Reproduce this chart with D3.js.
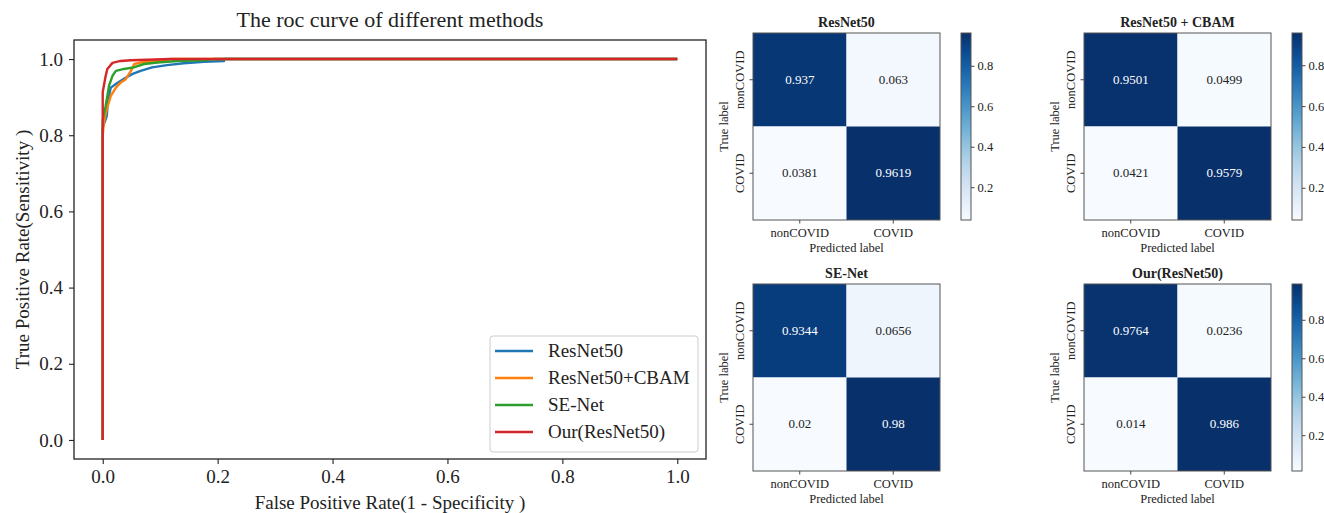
<!DOCTYPE html>
<html>
<head>
<meta charset="utf-8">
<script src="https://cdn.jsdelivr.net/npm/d3@7"></script>
<style>
  body { margin: 0; background: #fff; }
  svg text { font-family: "Liberation Serif", "DejaVu Serif", serif !important; fill: #222; }
</style>
</head>
<body>
<script>
// ---- ROC data ----
const methods = ["ResNet50", "ResNet50+CBAM", "SE-Net", "Our(ResNet50)"];
const colors = ["#1f77b4", "#ff7f0e", "#2ca02c", "#d62728"];

const resnetFpr = [0, 0, 0.007, 0.009, 0.014, 0.026, 0.040, 0.052, 0.066, 0.086, 0.112, 0.141, 0.176, 0.211, 0.211, 1];
const resnetTpr = [0, 0.82, 0.850, 0.890, 0.925, 0.938, 0.951, 0.961, 0.969, 0.978, 0.984, 0.989, 0.993, 0.995, 1.0, 1];

const cbamFpr = [0, 0, 0.002, 0.007, 0.014, 0.023, 0.031, 0.040, 0.049, 0.055, 0.066, 0.095, 0.118, 1];
const cbamTpr = [0, 0.80, 0.834, 0.868, 0.903, 0.925, 0.938, 0.947, 0.969, 0.987, 0.991, 0.995, 1.0, 1];

const senetFpr = [0, 0, 0.005, 0.008, 0.011, 0.017, 0.023, 0.037, 0.054, 0.072, 0.095, 0.130, 0.176, 0.195, 1];
const senetTpr = [0, 0.84, 0.876, 0.903, 0.930, 0.956, 0.969, 0.974, 0.978, 0.987, 0.991, 0.995, 0.997, 1.0, 1];

const oursFpr = [0, 0, 0.002, 0.005, 0.008, 0.017, 0.031, 0.049, 0.118, 1];
const oursTpr = [0, 0.913, 0.930, 0.955, 0.974, 0.990, 0.995, 0.997, 1.0, 1];

const rocFpr = [resnetFpr, cbamFpr, senetFpr, oursFpr];
const rocTpr = [resnetTpr, cbamTpr, senetTpr, oursTpr];
const rocTicks = [0, 0.2, 0.4, 0.6, 0.8, 1.0];

// ---- confusion matrices ----
const cmLabels = ["nonCOVID", "COVID"];
const cmTitles = ["ResNet50", "ResNet50 + CBAM", "SE-Net", "Our(ResNet50)"];
const cmResnet = [[0.937, 0.063], [0.0381, 0.9619]];
const cmCbam = [[0.9501, 0.0499], [0.0421, 0.9579]];
const cmSenet = [[0.9344, 0.0656], [0.02, 0.98]];
const cmOurs = [[0.9764, 0.0236], [0.014, 0.986]];
const cmData = [cmResnet, cmCbam, cmSenet, cmOurs];
const cmShowBar = [true, true, false, true];
const cbTicks = [0.2, 0.4, 0.6, 0.8];

const W = 1324, H = 513;
const FONT = "Liberation Serif";
const svg = d3.select("body").append("svg")
  .attr("width", W).attr("height", H)
  .attr("font-family", FONT);

/**
 * ROC panel
 */
const box = { left: 74, right: 706, top: 40, bottom: 459 };
const x = d3.scaleLinear().domain([-0.05, 1.05]).range([box.left, box.right]);
const y = d3.scaleLinear().domain([-0.05, 1.05]).range([box.bottom, box.top]);

const roc = svg.append("g");

const line = d3.line().x(d => x(d[0])).y(d => y(d[1]));
rocFpr.forEach((fpr, i) => {
  const pts = fpr.map((f, j) => [f, rocTpr[i][j]]);
  roc.append("path")
    .attr("d", line(pts))
    .attr("fill", "none")
    .attr("stroke", colors[i])
    .attr("stroke-width", 2.4)
    .attr("stroke-linejoin", "round");
});

// axes
const xAxis = roc.append("g")
  .attr("transform", `translate(0,${box.bottom})`)
  .call(d3.axisBottom(x).tickValues(rocTicks).tickFormat(d3.format(".1f")).tickSize(5).tickPadding(6));
const yAxis = roc.append("g")
  .attr("transform", `translate(${box.left},0)`)
  .call(d3.axisLeft(y).tickValues(rocTicks).tickFormat(d3.format(".1f")).tickSize(5).tickPadding(6));
[xAxis, yAxis].forEach(a => {
  a.attr("font-family", FONT);
  a.select(".domain").remove();
  a.selectAll("line").attr("stroke", "#222").attr("stroke-width", 1.1);
  a.selectAll("text").style("font-size", "19px").attr("fill", "#222");
});

roc.append("rect")
  .attr("x", box.left).attr("y", box.top)
  .attr("width", box.right - box.left).attr("height", box.bottom - box.top)
  .attr("fill", "none").attr("stroke", "#222").attr("stroke-width", 1.3);

roc.append("text")
  .attr("x", (box.left + box.right) / 2).attr("y", 27)
  .attr("text-anchor", "middle").style("font-size", "22px")
  .text("The roc curve of different methods");

roc.append("text")
  .attr("x", (box.left + box.right) / 2).attr("y", 509)
  .attr("text-anchor", "middle").style("font-size", "19px")
  .text("False Positive Rate(1 - Specificity )");

roc.append("text")
  .attr("transform", `translate(29,${(box.top + box.bottom) / 2}) rotate(-90)`)
  .attr("text-anchor", "middle").style("font-size", "19px")
  .text("True Positive Rate(Sensitivity )");

// legend
const legend = roc.append("g").attr("transform", "translate(490,336)");
legend.append("rect")
  .attr("width", 208).attr("height", 116).attr("rx", 3)
  .attr("fill", "#fff").attr("fill-opacity", 0.85)
  .attr("stroke", "#ccc").attr("stroke-width", 1);
methods.forEach((m, i) => {
  const ly = 15 + i * 27;
  legend.append("line")
    .attr("x1", 5).attr("x2", 43).attr("y1", ly).attr("y2", ly)
    .attr("stroke", colors[i]).attr("stroke-width", 2.4);
  legend.append("text")
    .attr("x", 58).attr("y", ly + 6)
    .style("font-size", "19px")
    .text(m);
});

/**
 * confusion matrices
 */
const panels = [
  { x0: 753, y0: 33 },
  { x0: 1084, y0: 33 },
  { x0: 753, y0: 284 },
  { x0: 1084, y0: 284 }
];
const size = 187;

cmData.forEach((mat, k) => {
  const p = panels[k];
  const g = svg.append("g").attr("transform", `translate(${p.x0},${p.y0})`);
  const flat = mat.flat();
  const vmin = d3.min(flat), vmax = d3.max(flat);
  const color = d3.scaleSequential(d3.interpolateBlues).domain([vmin, vmax]);
  const bx = d3.scaleBand().domain(cmLabels).range([0, size]);
  const by = d3.scaleBand().domain(cmLabels).range([0, size]);

  mat.forEach((row, r) => {
    row.forEach((v, c) => {
      g.append("rect")
        .attr("x", bx(cmLabels[c])).attr("y", by(cmLabels[r]))
        .attr("width", bx.bandwidth()).attr("height", by.bandwidth())
        .attr("fill", color(v));
      g.append("text")
        .attr("x", bx(cmLabels[c]) + bx.bandwidth() / 2)
        .attr("y", by(cmLabels[r]) + by.bandwidth() / 2 + 4)
        .attr("text-anchor", "middle")
        .style("font-size", "13px")
        .style("fill", v > (vmin + vmax) / 2 ? "#fff" : "#222")
        .text(v);
    });
  });

  g.append("rect")
    .attr("width", size).attr("height", size)
    .attr("fill", "none").attr("stroke", "#555").attr("stroke-width", 1);

  // bottom ticks
  const ax = g.append("g").attr("transform", `translate(0,${size})`)
    .call(d3.axisBottom(bx).tickSize(3.5).tickPadding(5));
  ax.attr("font-family", FONT);
  ax.select(".domain").remove();
  ax.selectAll("line").attr("stroke", "#444");
  ax.selectAll("text").style("font-size", "12.5px").attr("fill", "#222");

  // left ticks, labels rotated
  cmLabels.forEach(l => {
    const cy = by(l) + by.bandwidth() / 2;
    g.append("line").attr("x1", -3.5).attr("x2", 0).attr("y1", cy).attr("y2", cy).attr("stroke", "#444");
    g.append("text")
      .attr("transform", `translate(-9,${cy}) rotate(-90)`)
      .attr("text-anchor", "middle")
      .style("font-size", "12.5px")
      .text(l);
  });

  g.append("text")
    .attr("x", size / 2).attr("y", -6)
    .attr("text-anchor", "middle")
    .style("font-size", "14px").style("font-weight", "bold")
    .text(cmTitles[k]);

  g.append("text")
    .attr("x", size / 2).attr("y", size + 32)
    .attr("text-anchor", "middle").style("font-size", "12.5px")
    .text("Predicted label");

  g.append("text")
    .attr("transform", `translate(-25,${size / 2}) rotate(-90)`)
    .attr("text-anchor", "middle").style("font-size", "12.5px")
    .text("True label");

  if (cmShowBar[k]) {
    const cbx = size + 21, cbw = 10;
    const gradId = "grad" + k;
    const grad = svg.append("defs").append("linearGradient")
      .attr("id", gradId).attr("x1", 0).attr("x2", 0).attr("y1", 1).attr("y2", 0);
    d3.range(0, 1.0001, 0.1).forEach(t => {
      grad.append("stop").attr("offset", t).attr("stop-color", d3.interpolateBlues(t));
    });
    const cs = d3.scaleLinear().domain([vmin, vmax]).range([size, 0]);
    const cb = g.append("g").attr("transform", `translate(${cbx},0)`);
    cb.append("rect").attr("width", cbw).attr("height", size)
      .attr("fill", `url(#${gradId})`).attr("stroke", "#555").attr("stroke-width", 1);
    const cax = cb.append("g").attr("transform", `translate(${cbw},0)`)
      .call(d3.axisRight(cs).tickValues(cbTicks).tickFormat(d3.format(".1f")).tickSize(3.5).tickPadding(3));
    cax.attr("font-family", FONT);
    cax.select(".domain").remove();
    cax.selectAll("line").attr("stroke", "#444");
    cax.selectAll("text").style("font-size", "12.5px").attr("fill", "#222");
  }
});
</script>
</body>
</html>
